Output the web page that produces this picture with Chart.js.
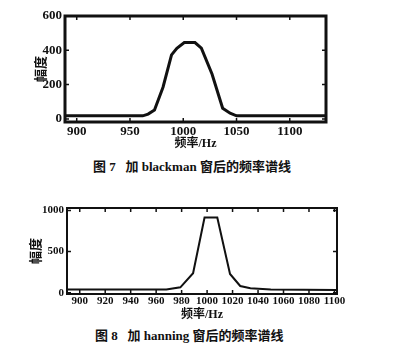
<!DOCTYPE html>
<html>
<head>
<meta charset="utf-8">
<script src="https://cdn.jsdelivr.net/npm/chart.js@4/dist/chart.umd.min.js"></script>
<style>
  body { margin: 0; background: #fff; }
  #page { position: relative; width: 400px; height: 347px; overflow: hidden; background: #fff; }
  canvas { position: absolute; left: 0; }
  .caption {
    position: absolute; white-space: nowrap; color: #111;
    font: bold 13px "Liberation Serif", "Noto Sans CJK SC", serif;
  }
</style>
</head>
<body>
<div id="page">
  <canvas id="chart7" width="400" height="152" style="top:0"></canvas>
  <div class="caption" style="left:93px; top:156px">图 7&nbsp;&nbsp;&nbsp;加 blackman 窗后的频率谱线</div>
  <canvas id="chart8" width="400" height="127" style="top:195px"></canvas>
  <div class="caption" style="left:95px; top:325px">图 8&nbsp;&nbsp;&nbsp;加 hanning 窗后的频率谱线</div>
</div>
<script>
// 图7: blackman 窗
const freq7 = [889, 962, 967, 973, 981, 989, 994, 1001, 1011, 1017, 1027, 1037, 1044, 1050, 1134];
const amp7  = [18, 18, 28, 52, 185, 373, 412, 445, 445, 412, 262, 62, 33, 18, 18];
const xTicks7 = [900, 950, 1000, 1050, 1100];
const yTicks7 = [0, 200, 400, 600];

// 图8: hanning 窗
const freq8 = [890, 968, 979, 989, 998, 1008, 1018, 1026, 1034, 1050, 1102];
const amp8  = [40, 40, 66, 237, 915, 915, 228, 82, 54, 40, 35];
const xTicks8 = [900, 920, 940, 960, 980, 1000, 1020, 1040, 1060, 1080, 1100];
const yTicks8 = [0, 500, 1000];

const INK = '#111';

// 边框 + 向内的刻度线
const framePlugin = {
    id: 'frame',
    afterDraw(chart, args, opts) {
        const { ctx, chartArea: a, scales: { x, y } } = chart;
        ctx.save();
        ctx.strokeStyle = INK;
        ctx.lineWidth = opts.width;
        ctx.strokeRect(a.left, a.top, a.right - a.left, a.bottom - a.top);
        ctx.lineWidth = opts.tickWidth;
        ctx.beginPath();
        x.ticks.forEach(t => {
            const px = x.getPixelForValue(t.value);
            ctx.moveTo(px, a.top); ctx.lineTo(px, a.top + opts.tickLen);
            ctx.moveTo(px, a.bottom); ctx.lineTo(px, a.bottom - opts.tickLen);
        });
        y.ticks.forEach(t => {
            const py = y.getPixelForValue(t.value);
            ctx.moveTo(a.left, py); ctx.lineTo(a.left + opts.tickLen, py);
            ctx.moveTo(a.right, py); ctx.lineTo(a.right - opts.tickLen, py);
        });
        ctx.stroke();
        ctx.restore();
    }
};

function spectrum(canvasId, freq, amp, xTicks, yTicks, c) {
    const tickFont = { family: "'Liberation Serif', serif", size: c.tickSize, weight: 'bold' };
    const titleFont = { family: "'Liberation Serif', 'Noto Sans CJK SC', serif", size: 12, weight: 'bold' };
    return new Chart(document.getElementById(canvasId), {
        type: 'line',
        data: {
            datasets: [{
                data: freq.map((f, i) => ({ x: f, y: amp[i] })),
                borderColor: INK,
                borderWidth: c.lineWidth,
                pointRadius: 0,
                tension: 0,
                fill: false
            }]
        },
        options: {
            responsive: false,
            animation: false,
            events: [],
            layout: { padding: { left: 0, top: c.top, right: c.right, bottom: 0 } },
            plugins: {
                legend: { display: false },
                tooltip: { enabled: false },
                frame: { width: c.frameWidth, tickWidth: 1.5, tickLen: 4 }
            },
            scales: {
                x: {
                    type: 'linear',
                    min: c.xMin, max: c.xMax,
                    afterBuildTicks: s => { s.ticks = xTicks.map(v => ({ value: v })); },
                    afterFit: s => { s.height = c.xHeight; },
                    grid: { display: false, drawTicks: false },
                    border: { display: false },
                    ticks: {
                        autoSkip: false, maxRotation: 0, padding: c.xPad,
                        color: INK, font: tickFont,
                        callback: v => String(v)
                    },
                    title: {
                        display: true, text: '频率/Hz', color: INK, font: titleFont,
                        padding: { top: 0, bottom: c.xTitlePad }
                    }
                },
                y: {
                    type: 'linear',
                    min: c.yMin, max: c.yMax,
                    afterBuildTicks: s => { s.ticks = yTicks.map(v => ({ value: v })); },
                    afterFit: s => { s.width = c.yWidth; },
                    grid: { display: false, drawTicks: false },
                    border: { display: false },
                    ticks: {
                        padding: 3, color: INK, font: tickFont,
                        callback: v => String(v)
                    },
                    title: {
                        display: true, text: '幅度', color: INK,
                        font: { family: "'Noto Sans CJK SC', sans-serif", size: 13, weight: 'bold' },
                        padding: { top: c.yTitlePad, bottom: 0 }
                    }
                }
            }
        },
        plugins: [framePlugin]
    });
}

spectrum('chart7', freq7, amp7, xTicks7, yTicks7, {
    top: 16, right: 74, xHeight: 30, yWidth: 65,
    xMin: 889, xMax: 1134, yMin: -18, yMax: 600,
    tickSize: 13, lineWidth: 3, frameWidth: 3,
    xPad: 2, xTitlePad: 1, yTitlePad: 32
});

spectrum('chart8', freq8, amp8, xTicks8, yTicks8, {
    top: 13, right: 63, xHeight: 28, yWidth: 67,
    xMin: 890, xMax: 1102, yMin: -15, yMax: 1030,
    tickSize: 11, lineWidth: 2, frameWidth: 2,
    xPad: 1, xTitlePad: 0, yTitlePad: 27
});
</script>
</body>
</html>
